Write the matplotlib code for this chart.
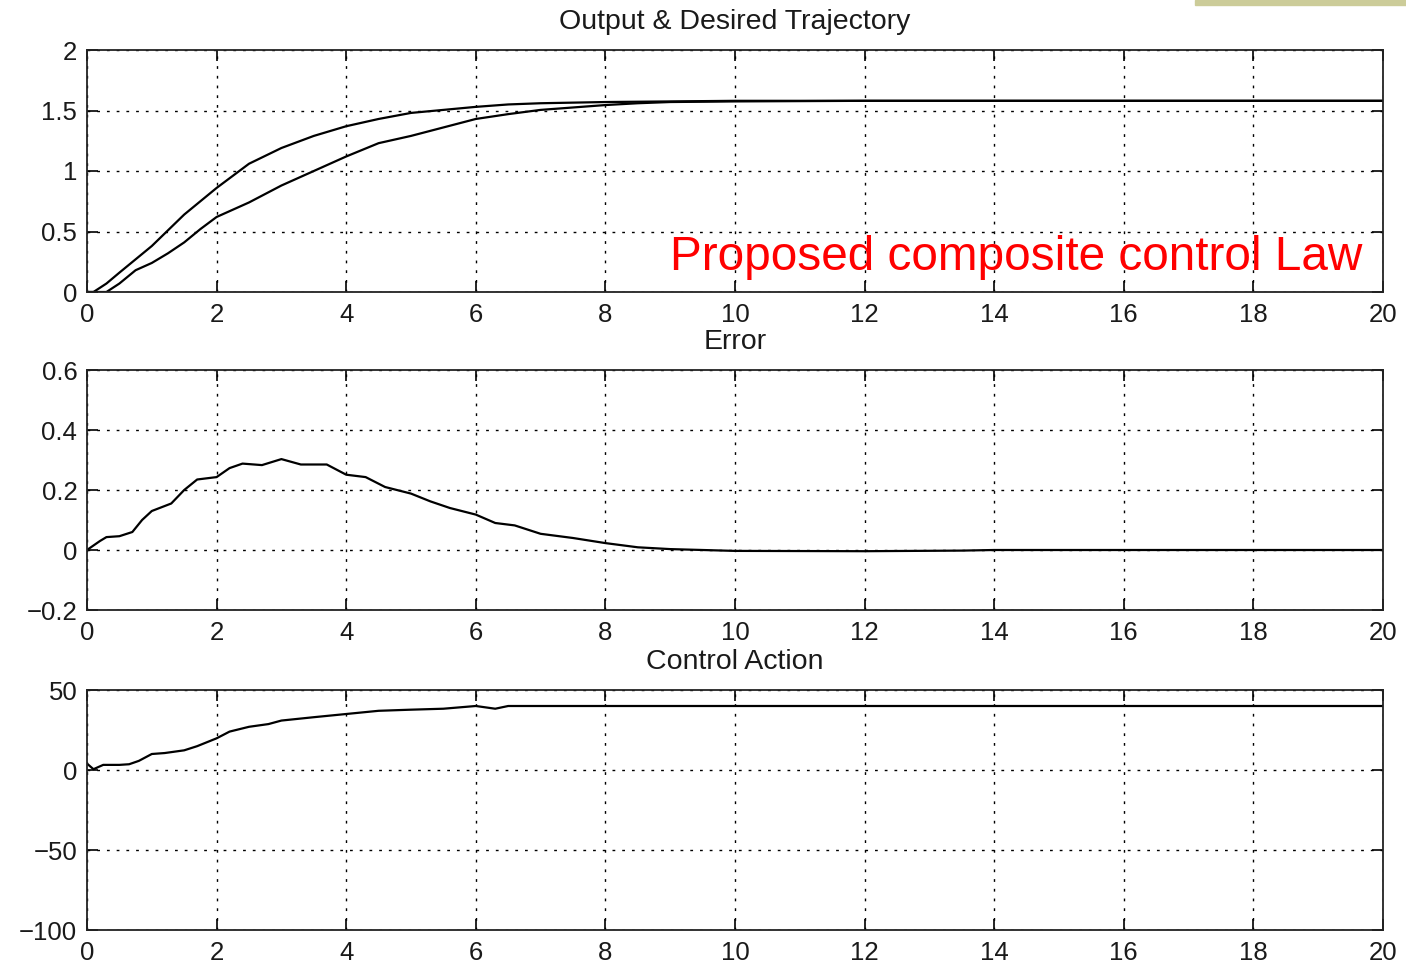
import matplotlib
matplotlib.use("Agg")
import matplotlib.pyplot as plt
from matplotlib.patches import Rectangle

plt.rcParams['font.family'] = ['Liberation Sans', 'DejaVu Sans']

# ---- data ----
t_des = [0, 0.1, 0.3, 0.5, 0.75, 1.0, 1.25, 1.5, 1.75, 2.0, 2.5, 3.0, 3.5, 4.0,
         4.5, 5.0, 5.5, 6.0, 6.5, 7.0, 8.0, 9.0, 10, 12, 20]
desired = [0, 0, 0.07, 0.16, 0.27, 0.38, 0.51, 0.64, 0.75, 0.86, 1.06, 1.19, 1.29,
           1.37, 1.43, 1.48, 1.505, 1.53, 1.55, 1.56, 1.57, 1.575, 1.58, 1.58, 1.58]

t_out = [0, 0.3, 0.5, 0.75, 1.0, 1.25, 1.5, 1.75, 2.0, 2.5, 3.0, 3.5, 4.0, 4.5,
         5.0, 5.5, 6.0, 6.5, 7.0, 7.5, 8.0, 8.5, 9.0, 10, 12, 20]
output = [0, 0, 0.07, 0.18, 0.24, 0.32, 0.41, 0.52, 0.62, 0.74, 0.88, 1.0, 1.12,
          1.23, 1.29, 1.36, 1.43, 1.47, 1.505, 1.525, 1.545, 1.56, 1.57, 1.575,
          1.58, 1.58]

t_err = [0, 0.2, 0.3, 0.5, 0.7, 0.85, 1.0, 1.3, 1.5, 1.7, 2.0, 2.2, 2.4, 2.7, 3.0,
         3.3, 3.7, 4.0, 4.3, 4.6, 5.0, 5.3, 5.6, 6.0, 6.3, 6.6, 7.0, 7.5, 8.0, 8.5,
         9.0, 10, 12, 13.5, 14, 20]
error = [0, 0.03, 0.043, 0.046, 0.06, 0.10, 0.13, 0.155, 0.2, 0.235, 0.243, 0.273,
         0.288, 0.283, 0.303, 0.285, 0.285, 0.251, 0.243, 0.21, 0.188, 0.162, 0.14,
         0.118, 0.09, 0.082, 0.054, 0.04, 0.023, 0.009, 0.003, -0.003, -0.004,
         -0.002, 0, 0]

t_u = [0, 0.1, 0.25, 0.5, 0.65, 0.8, 1.0, 1.2, 1.5, 1.7, 2.0, 2.2, 2.5, 2.8, 3.0,
       3.5, 4.0, 4.5, 5.0, 5.5, 6.0, 6.3, 6.5, 8.0, 20]
control = [4, 0.5, 3.2, 3.2, 3.6, 5.7, 10, 10.6, 12.3, 14.9, 19.8, 24, 27, 28.7,
           30.9, 33, 35, 37, 37.7, 38.3, 40, 38.3, 40, 40, 40]

titles = ["Output & Desired Trajectory", "Error", "Control Action"]
xticks = [0, 2, 4, 6, 8, 10, 12, 14, 16, 18, 20]
yticks_list = [[0, 0.5, 1, 1.5, 2], [-0.2, 0, 0.2, 0.4, 0.6], [-100, -50, 0, 50]]
ytick_labels = [["0", "0.5", "1", "1.5", "2"],
                ["\u22120.2", "0", "0.2", "0.4", "0.6"],
                ["\u2212100", "\u221250", "0", "50"]]
ylims = [(0, 2), (-0.2, 0.6), (-100, 50)]
annotation = "Proposed composite control Law"

W, H = 1406, 965
fig = plt.figure(figsize=(W / 100, H / 100), dpi=100)

boxes = [(50, 292), (370, 610), (690, 930)]
axes = []
for (top, bot) in boxes:
    ax = fig.add_axes([87 / W, 1 - bot / H, (1383 - 87) / W, (bot - top) / H])
    axes.append(ax)

series = [[(t_des, desired), (t_out, output)], [(t_err, error)], [(t_u, control)]]

for i, ax in enumerate(axes):
    for (tx, ty) in series[i]:
        ax.plot(tx, ty, color='black', lw=1.6)
    ax.set_xlim(0, 20)
    ax.set_ylim(*ylims[i])
    ax.set_xticks(xticks)
    ax.set_xticklabels([str(v) for v in xticks])
    ax.set_yticks(yticks_list[i])
    ax.set_yticklabels(ytick_labels[i])
    ax.tick_params(direction='in', length=8, width=1.2, labelsize=18.5,
                   top=True, right=True, labelcolor='#1a1a1a')
    ax.tick_params(axis='x', pad=8)
    ax.tick_params(axis='y', pad=7)
    ax.grid(True, color='black', linestyle=(0, (2, 5)), linewidth=1.0)
    for s in ax.spines.values():
        s.set_linewidth(1.3)
        s.set_color('#222222')
    ax.set_title(titles[i], fontsize=20.5, pad=15, color='#1a1a1a')

fig.text(670 / W, 1 - 270 / H, annotation, color='red', fontsize=34.4,
         ha='left', va='baseline')

fig.patches.append(Rectangle((1195 / W, 1 - 5 / H), (W - 1195) / W, 5 / H,
                             transform=fig.transFigure, color='#cccc99',
                             zorder=5))

fig.savefig("out.png", dpi=100)
